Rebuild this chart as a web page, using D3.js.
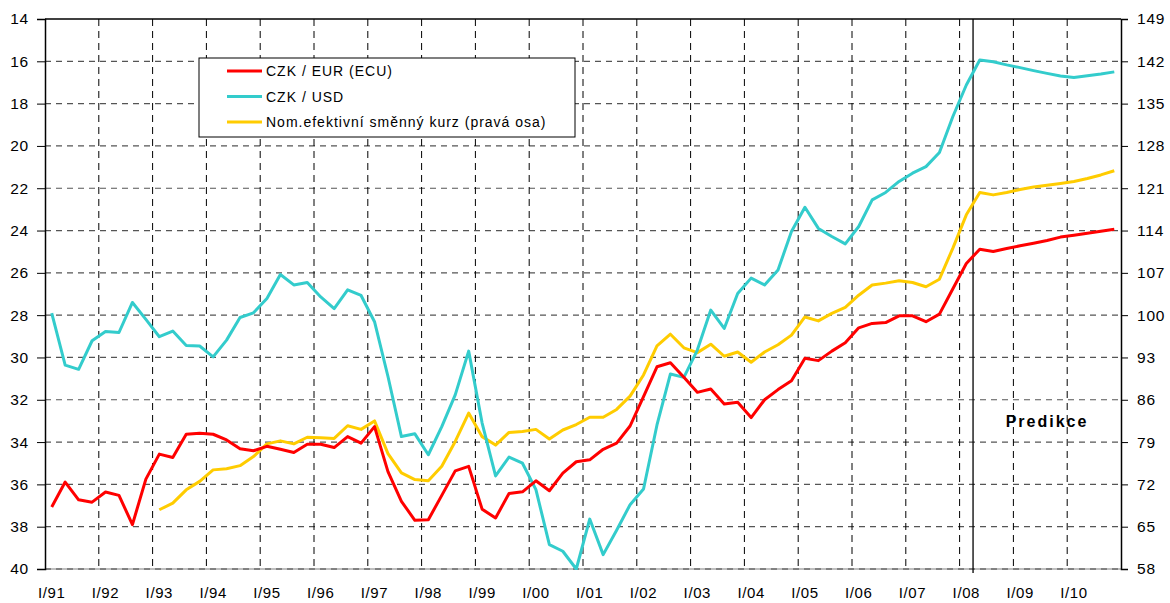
<!DOCTYPE html>
<html>
<head>
<meta charset="utf-8">
<script src="https://cdn.jsdelivr.net/npm/d3@7"></script>
<style>
  body { margin: 0; background: #fff; }
  svg text { font-family: "Liberation Sans", Arial, sans-serif; fill: #000; }
</style>
</head>
<body>
<svg id="chart"></svg>
<script>
// Chart data (quarters I/91 .. IV/10)
const years = ["91","92","93","94","95","96","97","98","99","00","01","02","03","04","05","06","07","08","09","10"];
const quarterNames = ["I", "II", "III", "IV"];

// CZK / EUR (ECU), left axis
const czkEur = [
  37.07, 35.89, 36.73, 36.84, 36.36, 36.52, 37.9, 35.75,
  34.57, 34.73, 33.63, 33.58, 33.63, 33.9, 34.32, 34.41,
  34.2, 34.34, 34.49, 34.1, 34.1, 34.26, 33.74, 34.05,
  33.27, 35.4, 36.8, 37.7, 37.67, 36.52, 35.36, 35.15,
  37.17, 37.59, 36.43, 36.35, 35.83, 36.3, 35.47, 34.93,
  34.84, 34.34, 34.05, 33.24, 31.85, 30.44, 30.25, 30.94,
  31.65, 31.49, 32.2, 32.12, 32.84, 32.0, 31.52, 31.1,
  30.04, 30.15, 29.7, 29.3, 28.6, 28.39, 28.35, 28.03,
  28.03, 28.31, 27.95, 26.75, 25.56, 24.88, 24.99, 24.85,
  24.72, 24.6, 24.47, 24.31, 24.22, 24.13, 24.03, 23.94
];

// CZK / USD, left axis
const czkUsd = [
  27.9, 30.36, 30.56, 29.21, 28.77, 28.82, 27.4, 28.2,
  29.02, 28.75, 29.43, 29.46, 29.97, 29.18, 28.11, 27.89,
  27.21, 26.08, 26.57, 26.46, 27.14, 27.69, 26.8, 27.07,
  28.31, 30.9, 33.74, 33.61, 34.6, 33.27, 31.77, 29.7,
  33.1, 35.6, 34.71, 35.0, 36.25, 38.85, 39.16, 40.0,
  37.64, 39.32, 38.17, 36.96, 36.22, 33.19, 30.78, 30.94,
  29.65, 27.76, 28.63, 26.98, 26.25, 26.57, 25.86, 24.05,
  22.9, 23.9, 24.28, 24.63, 23.81, 22.55, 22.2, 21.68,
  21.29, 20.98, 20.31, 18.61, 17.12, 15.94, 16.02, 16.17,
  16.3, 16.44, 16.57, 16.69, 16.77, 16.68, 16.6, 16.5
];

// Nominal effective exchange rate, right axis (starts I/93)
const neer = [
  null, null, null, null, null, null, null, null,
  67.8, 68.9, 71.1, 72.5, 74.4, 74.6, 75.1, 76.6,
  78.7, 79.2, 78.7, 79.8, 79.7, 79.6, 81.7, 81.1,
  82.5, 77.1, 73.9, 72.8, 72.6, 75.0, 79.1, 83.8,
  79.9, 78.5, 80.6, 80.75, 81.1, 79.5, 81.0, 81.9,
  83.1, 83.1, 84.4, 86.6, 90.1, 94.9, 96.85, 94.6,
  93.8, 95.2, 93.2, 93.9, 92.2, 93.9, 95.1, 96.7,
  99.7, 99.05, 100.3, 101.3, 103.3, 105.0, 105.3, 105.7,
  105.4, 104.7, 105.95, 111.1, 116.6, 120.3, 119.9, 120.3,
  120.8, 121.2, 121.5, 121.8, 122.1, 122.6, 123.2, 123.9
];

const leftTicks = [14, 16, 18, 20, 22, 24, 26, 28, 30, 32, 34, 36, 38, 40];
const rightTicks = [149, 142, 135, 128, 121, 114, 107, 100, 93, 86, 79, 72, 65, 58];
const predictionStart = "II/08";

const legendItems = [
  { name: "CZK / EUR (ECU)", color: "#ff0000" },
  { name: "CZK / USD", color: "#33cccc" },
  { name: "Nom.efektivní směnný kurz (pravá osa)", color: "#ffcc00" }
];

const quarters = [];
years.forEach((y) => quarterNames.forEach((q) => quarters.push(q + "/" + y)));

const W = 1170, H = 603;
const plot = { left: 45, right: 1121, top: 19, bottom: 569 };

const svg = d3.select("#chart").attr("width", W).attr("height", H);

const x = d3.scaleBand().domain(quarters).range([plot.left, plot.right]).padding(0);
const xc = (q) => x(q) + x.bandwidth() / 2;
const yL = d3.scaleLinear().domain([14, 40]).range([plot.top, plot.bottom]);
const yR = d3.scaleLinear().domain([149, 58]).range([plot.top, plot.bottom]);

// horizontal grid
svg.append("g")
  .selectAll("line")
  .data(leftTicks.slice(1))
  .enter()
  .append("line")
  .attr("x1", plot.left).attr("x2", plot.right)
  .attr("y1", (d) => yL(d)).attr("y2", (d) => yL(d))
  .attr("stroke", (d) => d === 40 ? "#808080" : "#555")
  .attr("stroke-width", 1.2)
  .attr("stroke-dasharray", (d) => d === 40 ? null : "6,5");

// bottom line dashed overlay
svg.append("line")
  .attr("x1", plot.left).attr("x2", plot.right)
  .attr("y1", yL(40)).attr("y2", yL(40))
  .attr("stroke", "#444").attr("stroke-dasharray", "6,5");

// vertical grid at year boundaries
const yearStarts = quarters.filter((q, i) => i > 0 && i % 4 === 0);
svg.append("g")
  .selectAll("line")
  .data(yearStarts)
  .enter()
  .append("line")
  .attr("x1", (d) => x(d)).attr("x2", (d) => x(d))
  .attr("y1", plot.top).attr("y2", plot.bottom)
  .attr("stroke", "#000")
  .attr("stroke-width", 1)
  .attr("stroke-dasharray", "7,5");

// frame: top, left, right
svg.append("line").attr("x1", plot.left).attr("x2", plot.right)
  .attr("y1", plot.top).attr("y2", plot.top).attr("stroke", "#000").attr("stroke-width", 1.5);

// prediction divider
svg.append("line")
  .attr("x1", x(predictionStart)).attr("x2", x(predictionStart))
  .attr("y1", plot.top).attr("y2", plot.bottom + 4)
  .attr("stroke", "#000").attr("stroke-width", 1.3);

// axes
const leftAxis = svg.append("g")
  .attr("transform", `translate(${plot.left},0)`)
  .call(d3.axisLeft(yL).tickValues(leftTicks).tickSize(8).tickPadding(8));
const rightAxis = svg.append("g")
  .attr("transform", `translate(${plot.right},0)`)
  .call(d3.axisRight(yR).tickValues(rightTicks).tickSize(7).tickPadding(9));
[leftAxis, rightAxis].forEach((g) => {
  g.select(".domain").attr("stroke", "#000").attr("stroke-width", 1.5);
  g.selectAll(".tick line").attr("stroke", "#000");
  g.selectAll("text")
    .attr("font-family", "'Liberation Sans', Arial, sans-serif")
    .attr("font-size", "15.5px")
    .attr("letter-spacing", "0.8px")
    .attr("fill", "#000");
});

// x labels
svg.append("g")
  .selectAll("text")
  .data(quarters.filter((q, i) => i % 4 === 0))
  .enter()
  .append("text")
  .attr("x", (d) => xc(d))
  .attr("y", 598)
  .attr("text-anchor", "middle")
  .style("font-size", "15px")
  .style("letter-spacing", "0.6px")
  .text((d) => d);

// lines
const lineL = d3.line().defined((d) => d != null)
  .x((d, i) => xc(quarters[i])).y((d) => yL(d));
const lineR = d3.line().defined((d) => d != null)
  .x((d, i) => xc(quarters[i])).y((d) => yR(d));

svg.append("defs").append("clipPath").attr("id", "clip")
  .append("rect").attr("x", plot.left).attr("y", plot.top)
  .attr("width", plot.right - plot.left).attr("height", plot.bottom - plot.top + 1);

const series = svg.append("g").attr("clip-path", "url(#clip)");
series.append("path").datum(neer).attr("d", lineR)
  .attr("fill", "none").attr("stroke", "#ffcc00").attr("stroke-width", 3).attr("stroke-linejoin", "round");
series.append("path").datum(czkUsd).attr("d", lineL)
  .attr("fill", "none").attr("stroke", "#33cccc").attr("stroke-width", 3).attr("stroke-linejoin", "round");
series.append("path").datum(czkEur).attr("d", lineL)
  .attr("fill", "none").attr("stroke", "#ff0000").attr("stroke-width", 3).attr("stroke-linejoin", "round");

// Predikce label
svg.append("text")
  .attr("x", 1047).attr("y", 427)
  .attr("text-anchor", "middle")
  .style("font-size", "16px")
  .style("font-weight", "bold")
  .style("letter-spacing", "2px")
  .text("Predikce");

// legend
const legend = svg.append("g").attr("transform", "translate(199,58)");
legend.append("rect").attr("width", 376).attr("height", 79)
  .attr("fill", "#fff").attr("stroke", "#000").attr("stroke-width", 1);
const rows = legend.selectAll("g.item")
  .data(legendItems)
  .enter()
  .append("g")
  .attr("class", "item")
  .attr("transform", (d, i) => `translate(0,${13 + i * 25.5})`);
rows.append("line").attr("x1", 28).attr("x2", 63)
  .attr("stroke", (d) => d.color).attr("stroke-width", 3);
rows.append("text").attr("x", 67).attr("y", 5)
  .style("font-size", "14px")
  .style("letter-spacing", "1px")
  .text((d) => d.name);
</script>
</body>
</html>
